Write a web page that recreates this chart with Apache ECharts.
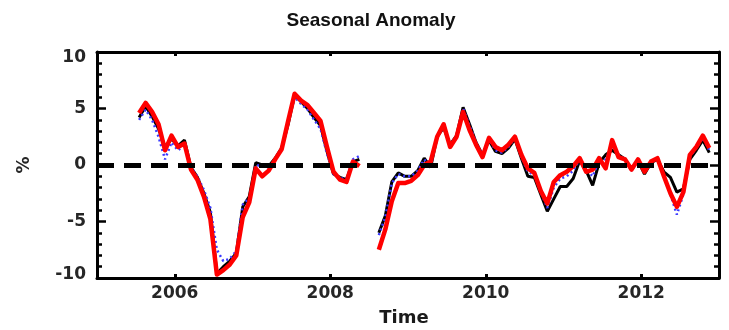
<!DOCTYPE html>
<html>
<head>
<meta charset="utf-8">
<script src="https://cdn.jsdelivr.net/npm/echarts@6/dist/echarts.min.js"></script>
<style>
html,body{margin:0;padding:0;background:#fff;}
#c{width:729px;height:330px;}
</style>
</head>
<body>
<div id="c"></div>
<script>
// Monthly series starting July 2005 (index 0) through Nov 2012 (index 88)
var startYear = 2005, startMonth = 7; // July
var xTickYears = [2006, 2008, 2010, 2012];
var yTicks = [-10, -5, 0, 5, 10];

var blackSeries = [
  4.2, 5.2, 4.3, 3.2, 1.6, 2.3, 1.7, 2.2, -0.2, -1.1,
  -2.5, -4.2, -9.6, -9.0, -8.5, -7.8, -3.7, -2.8, 0.2, 0.0,
  -0.1, 0.6, 1.5, 3.6, 6.2, 5.6, 5.0, 4.2, 3.5, 1.2,
  -0.8, -1.1, -1.3, 0.3, 0.5, null, null, -6.0, -4.5, -1.5,
  -0.7, -1.0, -1.0, -0.5, 0.6, -0.2, 2.5, 3.3, 1.8, 2.6,
  5.1, 3.6, 2.0, 0.9, 2.2, 1.2, 1.0, 1.5, 2.3, 0.6,
  -1.0, -1.1, -2.6, -4.1, -3.0, -1.9, -1.9, -1.2, 0.4, -0.5,
  -1.8, 0.2, 0.9, 1.3, 0.9, 0.5, -0.4, 0.4, -0.8, 0.2,
  0.5, -0.6, -1.1, -2.4, -2.1, 0.5, 1.3, 2.2, 1.1
];
var blueSeries = [
  4.0, 4.9, 4.0, 2.5, 0.5, 2.0, 1.3, 1.8, -0.2, -1.0,
  -2.2, -3.8, -7.5, -8.5, -8.3, -7.6, -3.5, -2.9, 0.0, -0.1,
  -0.2, 0.5, 1.4, 3.7, 6.0, 5.4, 4.9, 4.0, 3.2, 1.0,
  -0.8, -1.2, -1.2, 0.5, 0.8, null, null, -6.2, -4.6, -1.6,
  -0.8, -1.0, -1.0, -0.5, 0.5, -0.1, 2.5, 3.4, 1.8, 2.6,
  5.0, 3.5, 2.0, 0.9, 2.3, 1.3, 1.1, 1.6, 2.4, 0.7,
  -0.6, -0.9, -2.4, -3.8, -2.0, -1.2, -1.0, -0.5, 0.5, -0.4,
  -1.0, 0.4, 0.5, 1.6, 0.9, 0.5, -0.5, 0.4, -0.7, 0.3,
  0.5, -1.0, -2.6, -4.4, -2.6, 0.7, 1.5, 2.4, 1.3
];
var redSeries = [
  4.6, 5.5, 4.7, 3.6, 1.3, 2.6, 1.6, 1.9, -0.4, -1.3,
  -2.8, -4.8, -9.7, -9.3, -8.8, -8.0, -4.6, -3.3, -0.3, -1.0,
  -0.5, 0.5, 1.4, 3.9, 6.3, 5.7, 5.3, 4.6, 3.9, 1.6,
  -0.6, -1.3, -1.5, 0.3, -0.1, null, null, -7.5, -5.7, -3.2,
  -1.6, -1.6, -1.4, -0.9, 0.0, 0.3, 2.5, 3.6, 1.6, 2.5,
  4.7, 3.1, 1.8, 0.7, 2.4, 1.6, 1.3, 1.8, 2.5, 0.9,
  -0.3, -0.7, -2.3, -3.4, -1.5, -0.9, -0.6, -0.1, 0.6, -0.6,
  -0.4, 0.6, -0.3, 2.2, 0.7, 0.5, -0.4, 0.5, -0.6, 0.3,
  0.6, -1.0, -2.5, -3.7, -2.4, 0.9, 1.6, 2.6, 1.5
];

function toPairs(arr) {
  return arr.map(function (v, i) {
    var t = startYear + (startMonth - 1 + i + 0.5) / 12;
    return [t, v === null ? '-' : v];
  });
}

var FONT = 'DejaVu Sans';
var labelStyle = { fontFamily: FONT, fontWeight: 'bold', fontSize: 17, color: '#262626' };
var richBase = { fontFamily: FONT, fontWeight: 'bold', fontSize: 17, color: '#262626' };

var chart = echarts.init(document.getElementById('c'), null, { renderer: 'canvas' });
chart.setOption({
  backgroundColor: '#fff',
  animation: false,
  title: {
    text: 'Seasonal Anomaly',
    left: 366, top: 6, textAlign: 'center',
    textStyle: { fontFamily: 'Liberation Sans', fontWeight: 'bold', fontSize: 19, color: '#111' }
  },
  grid: { left: 97, right: 10, top: 52, bottom: 52, containLabel: false },
  xAxis: [{
    type: 'value', position: 'bottom', min: 2005, max: 2013,
    axisLine: { show: true, onZero: false, lineStyle: { color: '#000', width: 3 } },
    axisTick: { show: true, inside: true, length: 4, customValues: xTickYears, lineStyle: { color: '#000', width: 3 } },
    axisLabel: Object.assign({ show: true, margin: 7, customValues: xTickYears, formatter: function (v) { return String(v); } }, labelStyle),
    splitLine: { show: false }
  }, {
    type: 'value', position: 'top', min: 2005, max: 2013,
    axisLine: { show: true, onZero: false, lineStyle: { color: '#000', width: 3 } },
    axisTick: { show: true, inside: true, length: 4, customValues: xTickYears, lineStyle: { color: '#000', width: 3 } },
    axisLabel: { show: false },
    splitLine: { show: false }
  }],
  yAxis: [{
    type: 'value', position: 'left', min: -10, max: 10, interval: 5,
    axisLine: { show: true, onZero: false, lineStyle: { color: '#000', width: 3 } },
    axisTick: { show: true, inside: true, length: 9, lineStyle: { color: '#000', width: 2.5 } },
    minorTick: { show: true, splitNumber: 5, length: 5, lineStyle: { color: '#000', width: 2.5 } },
    axisLabel: Object.assign({
      margin: 11, customValues: yTicks,
      formatter: function (v) {
        if (v === 10) return '{hi|' + v + '}';
        if (v === -10) return '{lo|' + v + '}';
        return String(v);
      },
      rich: {
        hi: Object.assign({ padding: [12, 0, 0, 0] }, richBase),
        lo: Object.assign({ padding: [0, 0, 6, 0] }, richBase)
      }
    }, labelStyle),
    splitLine: { show: false }
  }, {
    type: 'value', position: 'right', min: -10, max: 10, interval: 5,
    axisLine: { show: true, onZero: false, lineStyle: { color: '#000', width: 3 } },
    axisTick: { show: true, inside: true, length: 9, lineStyle: { color: '#000', width: 2.5 } },
    minorTick: { show: true, splitNumber: 5, length: 5, lineStyle: { color: '#000', width: 2.5 } },
    axisLabel: { show: false },
    splitLine: { show: false }
  }],
  graphic: [{
    type: 'text', x: 25, y: 165, rotation: Math.PI / 2,
    style: { text: '%', fontFamily: FONT, fontWeight: 'bold', fontSize: 17, fill: '#262626', textAlign: 'center', textVerticalAlign: 'middle' }
  }, {
    type: 'text', x: 404, y: 318,
    style: { text: 'Time', fontFamily: FONT, fontWeight: 'bold', fontSize: 18, fill: '#1a1a1a', textAlign: 'center', textVerticalAlign: 'middle' }
  }],
  series: [{
    name: 'black', type: 'line', data: toPairs(blackSeries), showSymbol: false, connectNulls: false, z: 2,
    lineStyle: { color: '#000', width: 3 },
    markLine: {
      silent: true, symbol: 'none', label: { show: false },
      lineStyle: { color: '#000', width: 5, type: [17, 10], cap: 'butt', dashOffset: 0 },
      emphasis: { disabled: true },
      data: [{ yAxis: 0 }]
    }
  }, {
    name: 'blue', type: 'line', data: toPairs(blueSeries), showSymbol: false, connectNulls: false, z: 3,
    lineStyle: { color: '#3a3aff', width: 2.5, type: [2, 3] }
  }, {
    name: 'red', type: 'line', data: toPairs(redSeries), showSymbol: false, connectNulls: false, z: 4,
    lineStyle: { color: '#ff0000', width: 4.5, join: 'round' }
  }]
});
</script>
</body>
</html>
